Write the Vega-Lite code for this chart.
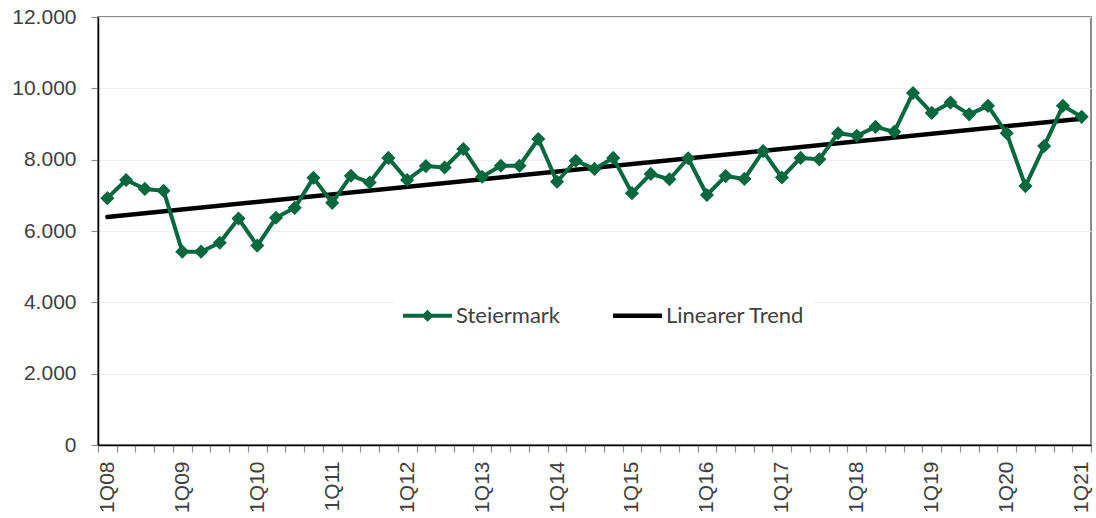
{
  "$schema": "https://vega.github.io/schema/vega-lite/v6.json",
  "width": 993,
  "height": 428,
  "autosize": {"type": "none"},
  "padding": {"left": 98, "top": 17, "right": 5, "bottom": 73},
  "background": "white",
  "config": {
    "font": "Liberation Sans",
    "view": {"stroke": "#8c8c8c", "strokeWidth": 2},
    "axis": {
      "labelFont": "Liberation Sans",
      "labelFontSize": 21,
      "labelColor": "#404040",
      "domainColor": "#000000",
      "domainWidth": 1.5,
      "tickColor": "#8c8c8c",
      "tickSize": 7,
      "tickWidth": 1.2,
      "title": null
    }
  },
  "data": {
    "values": [
      {"q": "1Q08", "v": 6920, "s": "Steiermark"},
      {"q": "2Q08", "v": 7430, "s": "Steiermark"},
      {"q": "3Q08", "v": 7180, "s": "Steiermark"},
      {"q": "4Q08", "v": 7130, "s": "Steiermark"},
      {"q": "1Q09", "v": 5420, "s": "Steiermark"},
      {"q": "2Q09", "v": 5420, "s": "Steiermark"},
      {"q": "3Q09", "v": 5670, "s": "Steiermark"},
      {"q": "4Q09", "v": 6350, "s": "Steiermark"},
      {"q": "1Q10", "v": 5590, "s": "Steiermark"},
      {"q": "2Q10", "v": 6370, "s": "Steiermark"},
      {"q": "3Q10", "v": 6650, "s": "Steiermark"},
      {"q": "4Q10", "v": 7490, "s": "Steiermark"},
      {"q": "1Q11", "v": 6790, "s": "Steiermark"},
      {"q": "2Q11", "v": 7550, "s": "Steiermark"},
      {"q": "3Q11", "v": 7360, "s": "Steiermark"},
      {"q": "4Q11", "v": 8050, "s": "Steiermark"},
      {"q": "1Q12", "v": 7430, "s": "Steiermark"},
      {"q": "2Q12", "v": 7820, "s": "Steiermark"},
      {"q": "3Q12", "v": 7780, "s": "Steiermark"},
      {"q": "4Q12", "v": 8300, "s": "Steiermark"},
      {"q": "1Q13", "v": 7520, "s": "Steiermark"},
      {"q": "2Q13", "v": 7830, "s": "Steiermark"},
      {"q": "3Q13", "v": 7830, "s": "Steiermark"},
      {"q": "4Q13", "v": 8580, "s": "Steiermark"},
      {"q": "1Q14", "v": 7380, "s": "Steiermark"},
      {"q": "2Q14", "v": 7970, "s": "Steiermark"},
      {"q": "3Q14", "v": 7740, "s": "Steiermark"},
      {"q": "4Q14", "v": 8050, "s": "Steiermark"},
      {"q": "1Q15", "v": 7060, "s": "Steiermark"},
      {"q": "2Q15", "v": 7600, "s": "Steiermark"},
      {"q": "3Q15", "v": 7450, "s": "Steiermark"},
      {"q": "4Q15", "v": 8040, "s": "Steiermark"},
      {"q": "1Q16", "v": 7010, "s": "Steiermark"},
      {"q": "2Q16", "v": 7540, "s": "Steiermark"},
      {"q": "3Q16", "v": 7460, "s": "Steiermark"},
      {"q": "4Q16", "v": 8240, "s": "Steiermark"},
      {"q": "1Q17", "v": 7500, "s": "Steiermark"},
      {"q": "2Q17", "v": 8050, "s": "Steiermark"},
      {"q": "3Q17", "v": 8010, "s": "Steiermark"},
      {"q": "4Q17", "v": 8740, "s": "Steiermark"},
      {"q": "1Q18", "v": 8670, "s": "Steiermark"},
      {"q": "2Q18", "v": 8920, "s": "Steiermark"},
      {"q": "3Q18", "v": 8780, "s": "Steiermark"},
      {"q": "4Q18", "v": 9870, "s": "Steiermark"},
      {"q": "1Q19", "v": 9310, "s": "Steiermark"},
      {"q": "2Q19", "v": 9600, "s": "Steiermark"},
      {"q": "3Q19", "v": 9270, "s": "Steiermark"},
      {"q": "4Q19", "v": 9510, "s": "Steiermark"},
      {"q": "1Q20", "v": 8740, "s": "Steiermark"},
      {"q": "2Q20", "v": 7260, "s": "Steiermark"},
      {"q": "3Q20", "v": 8380, "s": "Steiermark"},
      {"q": "4Q20", "v": 9510, "s": "Steiermark"},
      {"q": "1Q21", "v": 9200, "s": "Steiermark"},
      {"q": "1Q08", "v": 6390, "s": "Linearer Trend"},
      {"q": "1Q21", "v": 9150, "s": "Linearer Trend"}
    ]
  },
  "encoding": {
    "x": {
      "field": "q",
      "type": "ordinal",
      "sort": null,
      "scale": {
        "type": "band",
        "paddingInner": 0,
        "paddingOuter": 0,
        "domain": ["1Q08","2Q08","3Q08","4Q08","1Q09","2Q09","3Q09","4Q09","1Q10","2Q10","3Q10","4Q10","1Q11","2Q11","3Q11","4Q11","1Q12","2Q12","3Q12","4Q12","1Q13","2Q13","3Q13","4Q13","1Q14","2Q14","3Q14","4Q14","1Q15","2Q15","3Q15","4Q15","1Q16","2Q16","3Q16","4Q16","1Q17","2Q17","3Q17","4Q17","1Q18","2Q18","3Q18","4Q18","1Q19","2Q19","3Q19","4Q19","1Q20","2Q20","3Q20","4Q20","1Q21"]
      },
      "axis": {
        "labelAngle": -90,
        "labelPadding": 9,
        "labelFont": "Liberation Sans",
        "tickBand": "extent",
        "grid": false,
        "labelExpr": "substring(datum.value, 0, 2) === '1Q' ? datum.value : ''",
        "labelOverlap": false
      }
    },
    "y": {
      "field": "v",
      "type": "quantitative",
      "scale": {"domain": [0, 12000], "nice": false},
      "axis": {
        "values": [0, 2000, 4000, 6000, 8000, 10000, 12000],
        "labelExpr": "replace(format(datum.value, ','), ',', '.')",
        "labelFont": "Liberation Sans",
        "labelPadding": 15,
        "grid": true,
        "gridColor": "#eeeeee",
        "gridWidth": 1
      }
    },
    "color": {
      "field": "s",
      "type": "nominal",
      "scale": {"domain": ["Steiermark", "Linearer Trend"], "range": ["#05683f", "#000000"]},
      "legend": {
        "orient": "none",
        "legendX": 297,
        "legendY": 266,
        "direction": "horizontal",
        "title": null,
        "fillColor": "white",
        "padding": 8,
        "columnPadding": 52,
        "labelFont": "Lato",
        "labelFontSize": 22,
        "labelColor": "#404040",
        "labelOffset": 4,
        "symbolSize": 2400,
        "encode": {
          "symbols": {
            "update": {
              "shape": {"signal": "datum.value === 'Steiermark' ? 'M-1,-0.08L1,-0.08L1,0.08L-1,0.08Z M0,-0.25L0.25,0L0,0.25L-0.25,0Z' : 'M-1,-0.09L1,-0.09L1,0.09L-1,0.09Z'"},
              "fill": {"signal": "datum.value === 'Steiermark' ? '#05683f' : '#000000'"},
              "stroke": {"value": "transparent"},
              "strokeWidth": {"value": 0},
              "opacity": {"value": 1},
              "fillOpacity": {"value": 1}
            }
          }
        }
      }
    }
  },
  "layer": [
    {
      "transform": [{"filter": "datum.s === 'Linearer Trend'"}],
      "mark": {"type": "line", "strokeWidth": 4.5, "strokeCap": "round"}
    },
    {
      "transform": [{"filter": "datum.s === 'Steiermark'"}],
      "mark": {"type": "line", "strokeWidth": 4, "strokeJoin": "round", "point": {"shape": "diamond", "size": 200, "filled": true, "opacity": 1}}
    }
  ]
}
